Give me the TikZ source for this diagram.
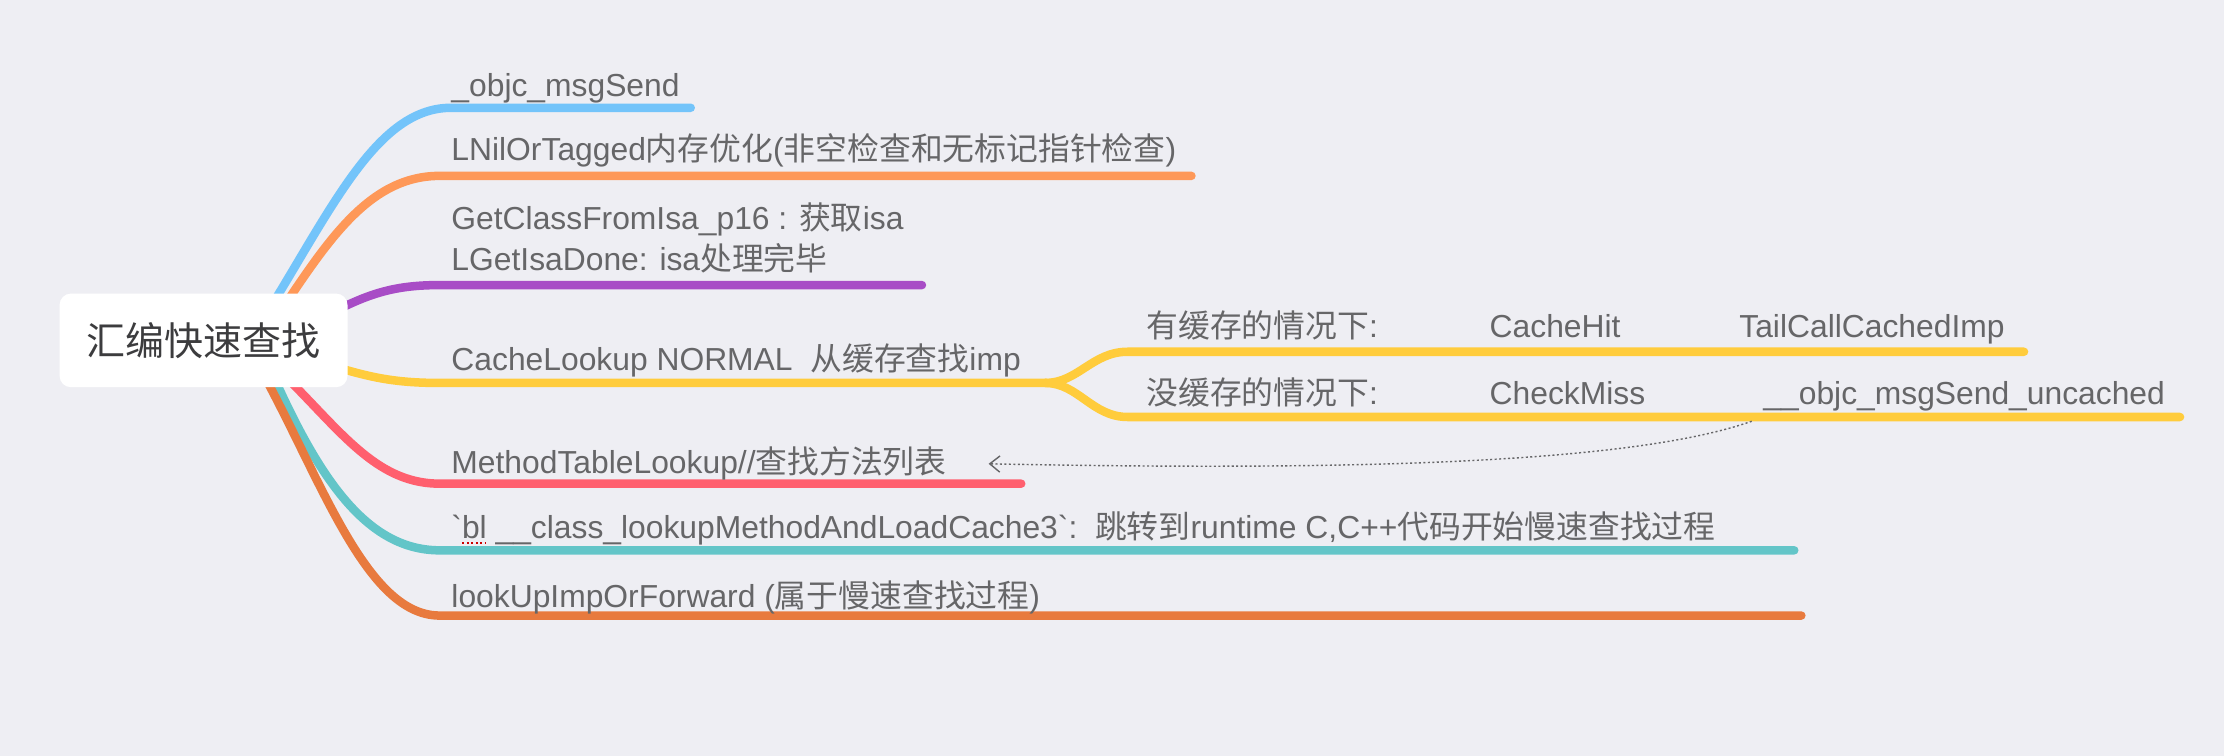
\documentclass[tikz,border=0pt]{standalone}
\usepackage{fontspec}
\setmainfont{Liberation Sans}
\newfontfamily\zhfont{Noto Sans CJK SC}
\newcommand\zh[1]{{\zhfont #1}}
\usetikzlibrary{arrows.meta}
\definecolor{bg}{RGB}{238,238,243}
\definecolor{txt}{RGB}{102,102,104}
\definecolor{roottxt}{RGB}{60,60,62}
\definecolor{cBlue}{RGB}{115,196,250}
\definecolor{cOrange}{RGB}{254,152,88}
\definecolor{cPurple}{RGB}{168,76,198}
\definecolor{cYellow}{RGB}{255,204,60}
\definecolor{cRed}{RGB}{255,95,110}
\definecolor{cTeal}{RGB}{99,197,200}
\definecolor{cDkOrange}{RGB}{232,122,62}
\begin{document}
\begin{tikzpicture}[x=0.7pt,y=-0.7pt,
  lbl/.style={anchor=base west, inner sep=0pt, text=txt, font=\fontsize{15.7}{18}\selectfont},
  br/.style={line width=4.2pt, line cap=round},
  rootbox/.style={fill=white, rounded corners=5.6pt, minimum width=142.1pt, minimum height=46.2pt, inner sep=0pt, text=roottxt, font=\fontsize{19.25}{22}\selectfont}]
\fill[bg] (0,0) rectangle (1568,533);
\useasboundingbox (0,0) rectangle (1568,533);
% branch anchor coordinates
\coordinate (s1) at (176,240); \coordinate (h1) at (318,76);  \coordinate (e1) at (487,76);
\coordinate (s2) at (184,240); \coordinate (h2) at (310,124); \coordinate (e2) at (840,124);
\coordinate (s3) at (200,240); \coordinate (h3) at (310,201); \coordinate (e3) at (650,201);
\coordinate (s4) at (200,248); \coordinate (h4) at (310,270); \coordinate (f4) at (737,270);
\coordinate (u4) at (795,248); \coordinate (ue) at (1427,248);
\coordinate (l4) at (795,294); \coordinate (le) at (1537,294);
\coordinate (s5) at (185,250); \coordinate (h5) at (310,341); \coordinate (e5) at (720,341);
\coordinate (s6) at (184,245); \coordinate (h6) at (310,388); \coordinate (e6) at (1265,388);
\coordinate (s7) at (175,245); \coordinate (h7) at (310,434); \coordinate (e7) at (1270,434);
% branches
\draw[br,cBlue] (s1) .. controls (230,157) and (262,76) .. (h1) -- (e1);
\draw[br,cOrange] (s2) .. controls (225,180) and (255,124) .. (h2) -- (e2);
\draw[br,cPurple] (s3) .. controls (250,210) and (270,201) .. (h3) -- (e3);
\draw[br,cYellow] (s4) .. controls (250,262) and (265,270) .. (h4) -- (f4);
\draw[br,cYellow] (f4) .. controls (760,270) and (770,248) .. (u4) -- (ue);
\draw[br,cYellow] (f4) .. controls (760,270) and (770,294) .. (l4) -- (le);
\draw[br,cRed] (s5) .. controls (235,295) and (260,341) .. (h5) -- (e5);
\draw[br,cTeal] (s6) .. controls (220,330) and (255,388) .. (h6) -- (e6);
\draw[br,cDkOrange] (s7) .. controls (223,326) and (255,434) .. (h7) -- (e7);
% root
\node[rootbox] (root) at (143.5,240) {\zh{汇编快速查找}};
% labels
\node[lbl] (t1) at (318,68) {\_objc\_msgSend};
\node[lbl] (t2) at (318,113) {LNilOrTagged\zh{内存优化}(\zh{非空检查和无标记指针检查})};
\node[lbl] (t3a) at (318,162) {GetClassFromIsa\_p16 : \zh{获取}isa};
\node[lbl] (t3b) at (318,191) {LGetIsaDone: isa\zh{处理完毕}};
\node[lbl] (t4) at (318,261) {CacheLookup NORMAL\ \ \zh{从缓存查找}imp};
\node[lbl] (t41a) at (808,238) {\zh{有缓存的情况下}:};
\node[lbl] (t41b) at (1050,238) {CacheHit};
\node[lbl] (t41c) at (1226,238) {TailCallCachedImp};
\node[lbl] (t42a) at (808,285) {\zh{没缓存的情况下}:};
\node[lbl] (t42b) at (1050,285) {CheckMiss};
\node[lbl] (t42c) at (1243,285) {\_\_objc\_msgSend\_uncached};
\node[lbl] (t5) at (318,334) {MethodTableLookup//\zh{查找方法列表}};
\node[lbl] (t6) at (318,380) {\textasciigrave bl \_\_class\_lookupMethodAndLoadCache3\textasciigrave:\ \ \zh{跳转到}runtime C,C++\zh{代码开始慢速查找过程}};
\node[lbl] (t7) at (318,428) {lookUpImpOrForward (\zh{属于慢速查找过程})};
% spell-check marks under "bl"
\coordinate (sq1) at (326,383); \coordinate (sq2) at (342,383);
\draw[red!80!black, line width=1.2pt, dash pattern=on 1pt off 1.2pt] (sq1) -- (sq2);
% dotted arrow
\coordinate (ds) at (1235,297); \coordinate (de) at (697,327);
\draw[txt, line width=0.7pt, dash pattern=on 1pt off 1.2pt, -{Straight Barb[length=5pt,width=8pt]}] (ds) .. controls (1150,327) and (950,332) .. (de);
\end{tikzpicture}
\end{document}
